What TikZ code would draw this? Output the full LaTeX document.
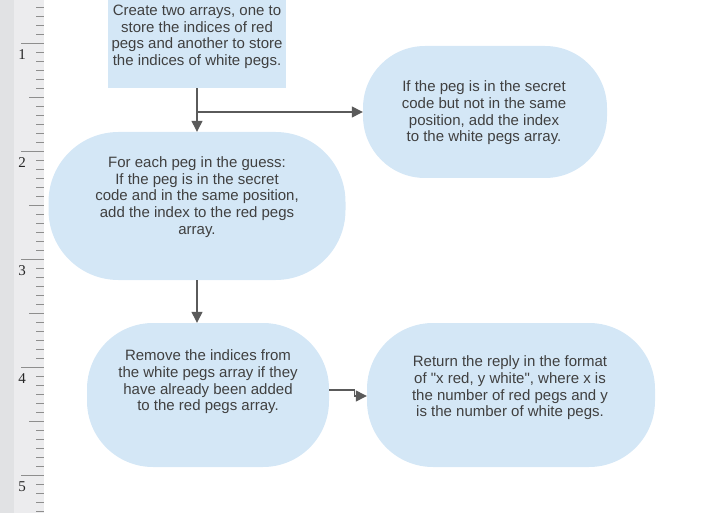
\documentclass[tikz,border=0pt]{standalone}
\usepackage{fontspec}
\setmainfont{Liberation Sans}
\newfontfamily\rulerfont{Liberation Serif}
\usetikzlibrary{arrows.meta}
\definecolor{boxblue}{HTML}{D4E7F6}
\definecolor{inkgray}{HTML}{404040}
\definecolor{flowgray}{HTML}{5A5A5A}
\definecolor{rulerdark}{HTML}{E1E2E4}
\definecolor{rulerlight}{HTML}{ECECEE}
\definecolor{tickgray}{HTML}{8E8E8E}
\tikzset{
	boxfill/.style={fill=boxblue, draw=none},
	pill/.style={boxfill, rectangle, rounded corners=66pt},
	txt/.style={align=center, text=inkgray, font=\fontsize{15}{16.6}\selectfont, inner sep=0pt},
	flow/.style={line width=1.3pt, color=flowgray, -{Triangle[length=11pt,width=11pt]}},
	tick/.style={line width=1.2pt, color=tickgray},
	rulernum/.style={font=\rulerfont\fontsize{15}{15}\selectfont, text=black!85, inner sep=0pt}
}

\begin{document}
\begin{tikzpicture}[x=1pt, y=-1pt]
		%%%%% START %%%%%
		\useasboundingbox (0,0) rectangle (712,513);
		
		% ruler
		\fill[rulerdark] (0,0) rectangle (14,513);
		\fill[rulerlight] (14,0) rectangle (44,513);
		\foreach \k in {-4,...,52}
			\draw[tick] (36,{43.3+9*\k}) -- (44,{43.3+9*\k});
		\foreach \k in {0,...,3}
			\draw[tick] (29,{97.3+108*\k}) -- (44,{97.3+108*\k});
		\foreach \k in {0,...,4}
			\draw[tick] (21,{43.3+108*\k}) -- (44,{43.3+108*\k});
		\foreach \k in {1,...,5}
			\node[rulernum] (num\k) at (22,{55+108*(\k-1)}) {\k};
		
		% shapes
		\node[boxfill, minimum width=178, minimum height=88] (init) at (197,44) {};
		\node[pill, minimum width=244, minimum height=132, rounded corners=62pt] (white) at (485,112) {};
		\node[pill, minimum width=297, minimum height=148, rounded corners=70pt] (red) at (197,206) {};
		\node[pill, minimum width=242, minimum height=144] (clean) at (208,395) {};
		\node[pill, minimum width=288, minimum height=144] (reply) at (511,395) {};
		
		% texts
		\node[txt] (initText) at (197,37) {Create two arrays, one to\\store the indices of red\\pegs and another to store\\the indices of white pegs.};
		\node[txt] (whiteText) at (484,113) {If the peg is in the secret\\code but not in the same\\position, add the index\\to the white pegs array.};
		\node[txt] (redText) at (197,197) {For each peg in the guess:\\If the peg is in the secret\\code and in the same position,\\add the index to the red pegs\\array.};
		\node[txt] (cleanText) at (208,382) {Remove the indices from\\the white pegs array if they\\have already been added\\to the red pegs array.};
		\node[txt] (replyText) at (510,388) {Return the reply in the format\\of \textquotedbl x red, y white\textquotedbl, where x is\\the number of red pegs and y\\is the number of white pegs.};
		
		% connectors
		\coordinate (fork) at (197,112);
		\draw[flow] (init.south) -- (red.north);
		\draw[flow] (fork) -- (white.west);
		\draw[flow] (red.south) -- (red.south |- clean.north);
		\draw[flow] ([yshift=5pt]clean.east) -- ++(25,0) |- ([yshift=-1pt]reply.west);
		
		%%%%% END %%%%%
	\end{tikzpicture}
\end{document}
